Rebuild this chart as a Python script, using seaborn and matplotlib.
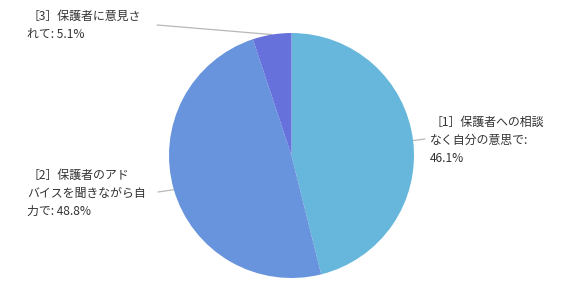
import matplotlib
matplotlib.use("Agg")
import matplotlib.pyplot as plt
import numpy as np
import seaborn as sns

# ---- data ----
categories = ["［1］保護者への相談なく自分の意思で", "［2］保護者のアドバイスを聞きながら自力で", "［3］保護者に意見されて"]
values = [46.1, 48.8, 5.1]
label_lines = [
    ["［1］保護者への相談", "なく自分の意思で:", "46.1%"],
    ["［2］保護者のアド", "バイスを聞きながら自", "力で: 48.8%"],
    ["［3］保護者に意見さ", "れて: 5.1%"],
]
colors = ["#67b7dc", "#6794dc", "#6771dc"]

sns.set_theme(style="white")
plt.rcParams["font.family"] = ["Noto Sans CJK JP", "DejaVu Sans"]

W, H = 585, 297
fig = plt.figure(figsize=(W / 100, H / 100), dpi=100)
fig.patch.set_facecolor("white")

# pie axes: center (291,155.5) r=122.5 px
cx, cy, r = 291.5, 155.5, 122.5
ax = fig.add_axes([(cx - r) / W, 1 - (cy + r) / H, 2 * r / W, 2 * r / H])
wedges, _ = ax.pie(values, colors=colors, startangle=90, counterclock=False,
                   wedgeprops=dict(linewidth=0))
ax.set_xlim(-1, 1)
ax.set_ylim(-1, 1)
ax.set_aspect("equal")
ax.axis("off")

# label layout (pixels from top-left): text origin x, first line center y, line end near text
text_pos = [(430, 122), (27, 175), (27, 16)]
line_start = [(425, 139), (158, 192), (157, 25)]

def px_to_data(x, y):
    fx, fy = x / W, 1 - y / H
    disp = fig.transFigure.transform((fx, fy))
    return ax.transData.inverted().transform(disp)

for w, lines, tp, ls in zip(wedges, label_lines, text_pos, line_start):
    th = np.deg2rad((w.theta1 + w.theta2) / 2)
    ex, ey = np.cos(th), np.sin(th)
    sx, sy = px_to_data(*ls)
    ax.plot([sx, ex], [sy, ey], color="#b8b8b8", lw=0.9, clip_on=False, zorder=0)
    for i, t in enumerate(lines):
        fig.text(tp[0] / W, 1 - (tp[1] + i * 18) / H, t, fontsize=8.6,
                 color="#333333", ha="left", va="center")

fig.savefig("out.png", dpi=100, facecolor="white")
